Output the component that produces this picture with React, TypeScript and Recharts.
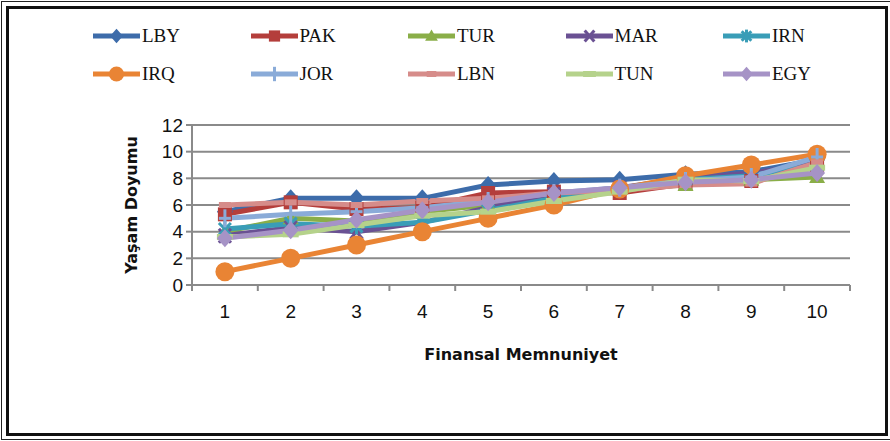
import React from 'react'
import { LineChart, Line, XAxis, YAxis, CartesianGrid, Legend } from 'recharts'

const categories = [1, 2, 3, 4, 5, 6, 7, 8, 9, 10]
const yTicks = [0, 2, 4, 6, 8, 10, 12]

const LBY = [5.5, 6.5, 6.5, 6.5, 7.5, 7.8, 7.9, 8.3, 8.5, 9.4]
const PAK = [5.3, 6.2, 5.7, 5.8, 6.9, 7.0, 6.9, 7.6, 7.8, 9.0]
const TUR = [4.0, 5.0, 4.8, 5.5, 6.0, 6.6, 7.2, 7.5, 7.9, 8.1]
const MAR = [3.7, 4.3, 4.0, 4.7, 5.8, 6.8, 7.3, 8.0, 8.4, 9.1]
const IRN = [4.2, 4.6, 4.4, 4.7, 5.6, 6.5, 7.2, 7.9, 8.2, 9.0]
const IRQ = [1, 2, 3, 4, 5, 6, 7.2, 8.2, 9.0, 9.8]
const JOR = [5.0, 5.3, 5.5, 5.8, 6.3, 6.9, 7.3, 7.8, 8.1, 9.6]
const LBN = [6.0, 6.2, 6.0, 6.3, 6.5, 6.9, 7.1, 7.5, 7.6, 9.2]
const TUN = [3.6, 3.8, 4.5, 5.2, 5.5, 6.3, 7.0, 7.9, 7.8, 8.8]
const EGY = [3.5, 4.1, 4.9, 5.6, 6.2, 6.9, 7.3, 7.7, 7.9, 8.4]

type Kind = 'diamond' | 'square' | 'triangle' | 'x' | 'star' | 'circle' | 'plus' | 'dash' | 'longdash'

const SERIES: { key: string; values: number[]; color: string; marker: Kind }[] = [
  { key: 'LBY', values: LBY, color: '#3D6CAA', marker: 'diamond' },
  { key: 'PAK', values: PAK, color: '#B43E3B', marker: 'square' },
  { key: 'TUR', values: TUR, color: '#8AAE48', marker: 'triangle' },
  { key: 'MAR', values: MAR, color: '#6A5193', marker: 'x' },
  { key: 'IRN', values: IRN, color: '#399DB7', marker: 'star' },
  { key: 'IRQ', values: IRQ, color: '#E98434', marker: 'circle' },
  { key: 'JOR', values: JOR, color: '#8AABD8', marker: 'plus' },
  { key: 'LBN', values: LBN, color: '#D68C8A', marker: 'dash' },
  { key: 'TUN', values: TUN, color: '#B5D28B', marker: 'longdash' },
  { key: 'EGY', values: EGY, color: '#A693C6', marker: 'diamond' },
]

const data = categories.map((c, i) => {
  const row: Record<string, number> = { x: c }
  SERIES.forEach(s => { row[s.key] = s.values[i] })
  return row
})

// integer ticks get a label, half ticks get the band boundary mark
const xTicks = [categories[0] - 0.5, ...categories.flatMap(c => [c, c + 0.5])]

const GRID = '#8a8a8a'
const TICK_FONT = '"Liberation Sans Narrow", "Liberation Sans", sans-serif'

function Marker({ cx, cy, kind, color, s = 1 }: { cx: number; cy: number; kind: Kind; color: string; s?: number }) {
  if (cx == null || cy == null) return null
  switch (kind) {
    case 'diamond':
      return <polygon points={`${cx},${cy - 9 * s} ${cx + 8 * s},${cy} ${cx},${cy + 9 * s} ${cx - 8 * s},${cy}`} fill={color} />
    case 'square':
      return <rect x={cx - 7 * s} y={cy - 7 * s} width={14 * s} height={14 * s} fill={color} />
    case 'triangle':
      return <polygon points={`${cx},${cy - 8 * s} ${cx + 8 * s},${cy + 6 * s} ${cx - 8 * s},${cy + 6 * s}`} fill={color} />
    case 'x':
      return (
        <g stroke={color} strokeWidth={3}>
          <line x1={cx - 6 * s} y1={cy - 7 * s} x2={cx + 6 * s} y2={cy + 7 * s} />
          <line x1={cx + 6 * s} y1={cy - 7 * s} x2={cx - 6 * s} y2={cy + 7 * s} />
        </g>
      )
    case 'star':
      return (
        <g stroke={color} strokeWidth={3}>
          <line x1={cx - 6 * s} y1={cy - 6 * s} x2={cx + 6 * s} y2={cy + 6 * s} />
          <line x1={cx + 6 * s} y1={cy - 6 * s} x2={cx - 6 * s} y2={cy + 6 * s} />
          <line x1={cx} y1={cy - 8 * s} x2={cx} y2={cy + 8 * s} />
        </g>
      )
    case 'circle':
      return <circle cx={cx} cy={cy} r={9.5 * s} fill={color} />
    case 'plus':
      return (
        <g stroke={color} strokeWidth={3}>
          <line x1={cx} y1={cy - 9 * s} x2={cx} y2={cy + 9 * s} />
          <line x1={cx - 6 * s} y1={cy} x2={cx + 6 * s} y2={cy} />
        </g>
      )
    case 'dash':
      return <rect x={cx - 6 * s} y={cy - 3} width={12 * s} height={6} fill={color} />
    case 'longdash':
      return <rect x={cx - 8 * s} y={cy - 3} width={16 * s} height={6} fill={color} />
  }
  return null
}

function XTick({ x, y, payload }: any) {
  const v = payload.value
  if (Number.isInteger(v)) {
    return (
      <text x={x} y={y + 14} dy="0.71em" textAnchor="middle" fontFamily={TICK_FONT} fontSize={19} fill="#111">
        {v}
      </text>
    )
  }
  return <line x1={x} x2={x} y1={y - 6} y2={y} stroke={GRID} strokeWidth={2} />
}

function renderLegend() {
  return (
    <div style={{ display: 'grid', gridTemplateColumns: 'repeat(5, 157.5px)', rowGap: 16, paddingLeft: 93 }}>
      {SERIES.map(s => (
        <div key={s.key} style={{ display: 'flex', alignItems: 'center', height: 22 }}>
          <svg width={47} height={22}>
            <line x1={0} x2={47} y1={11} y2={11} stroke={s.color} strokeWidth={5} strokeLinecap="round" />
            <Marker cx={23.5} cy={11} kind={s.marker} color={s.color} s={0.8} />
          </svg>
          <span style={{ fontFamily: '"Liberation Serif", serif', fontSize: 19, marginLeft: 2, color: '#111' }}>{s.key}</span>
        </div>
      ))}
    </div>
  )
}

export default function App() {
  return (
    <div style={{ position: 'absolute', left: 0, top: 0, width: 890, height: 441, background: '#fff' }}>
      <div style={{ position: 'absolute', left: 1, top: 1, width: 892, height: 437, border: '1.5px solid #222' }} />
      <div style={{ position: 'absolute', left: 6, top: 6, width: 876, height: 424, border: '3px solid #111' }} />
      <div style={{ position: 'absolute', left: 0, top: 0 }}>
        <LineChart width={890} height={441} data={data} margin={{ top: 125, right: 40, bottom: 66, left: 126 }}>
          <CartesianGrid horizontal vertical={false} stroke={GRID} strokeWidth={2} />
          <XAxis
            dataKey="x"
            type="number"
            domain={[0.5, 10.5]}
            ticks={xTicks}
            interval={0}
            allowDecimals
            tickLine={false}
            tickSize={6}
            tickMargin={0}
            tick={<XTick />}
            axisLine={{ stroke: GRID, strokeWidth: 2 }}
            height={90}
            label={{
              value: 'Finansal Memnuniyet',
              position: 'insideBottom',
              offset: 15,
              style: { fontFamily: '"DejaVu Sans", sans-serif', fontWeight: 'bold', fontSize: 16, fill: '#111' },
            }}
          />
          <YAxis
            type="number"
            domain={[0, 12]}
            ticks={yTicks}
            interval={0}
            width={66}
            tickSize={6}
            tickMargin={3}
            tickLine={{ stroke: GRID, strokeWidth: 2 }}
            axisLine={{ stroke: GRID, strokeWidth: 2 }}
            tick={{ fontFamily: TICK_FONT, fontSize: 19, fill: '#111' }}
            label={{
              value: 'Yaşam Doyumu',
              angle: -90,
              position: 'insideLeft',
              offset: 5,
              style: { textAnchor: 'middle', fontFamily: '"DejaVu Sans", sans-serif', fontWeight: 'bold', fontSize: 16, fill: '#111' },
            }}
          />
          <Legend
            layout="horizontal"
            verticalAlign="middle"
            align="center"
            content={renderLegend}
            wrapperStyle={{ top: 25, left: 0, width: 890 }}
          />
          {SERIES.map(s => (
            <Line
              key={s.key}
              dataKey={s.key}
              name={s.key}
              stroke={s.color}
              strokeWidth={5}
              isAnimationActive={false}
              activeDot={false}
              dot={(p: any) => <Marker key={`${s.key}-${p.index}`} cx={p.cx} cy={p.cy} kind={s.marker} color={s.color} />}
            />
          ))}
        </LineChart>
      </div>
    </div>
  )
}
